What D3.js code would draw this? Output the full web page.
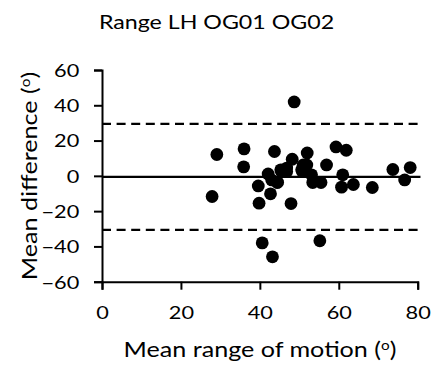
<!DOCTYPE html>
<html>
<head>
<meta charset="utf-8">
<script src="https://cdn.jsdelivr.net/npm/d3@7"></script>
<style>
  html, body { margin: 0; padding: 0; background: #fff; }
  svg { display: block; }
  text { font-family: Lato, "Open Sans", sans-serif; fill: #000; }
</style>
</head>
<body>
<svg id="chart" width="432" height="369"></svg>
<script>
// Bland-Altman: mean range of motion vs. mean difference between raters
const meanRange = [29.1, 27.9, 36.0, 35.9, 43.7, 48.7, 39.6, 39.8, 42.1, 42.7,
                   44.4, 43.0, 47.9, 48.2, 52.0, 45.3, 46.8, 51.0, 50.8, 53.1,
                   53.4, 55.5, 56.9, 59.3, 61.9, 61.0, 60.7, 63.7, 68.5, 73.7,
                   78.1, 76.7, 40.6, 43.2, 55.2, 46.8, 45.5, 44.5, 50.6, 51.9];
const meanDiff  = [12.1, -11.7, 15.3, 5.1, 13.8, 41.9, -5.7, -15.5, 1.1, -10.2,
                   -3.8, -2.3, -15.7, 9.4, 13.0, 3.4, 2.4, 6.2, 2.4, 0.6,
                   -3.8, -3.8, 6.2, 16.4, 14.5, 0.6, -6.4, -4.9, -6.6, 3.6,
                   4.7, -2.3, -38.0, -45.9, -36.8, 4.4, 2.4, -3.6, 3.4, 6.2];
const bias = -0.6;
const upperLoA = 29.5;
const lowerLoA = -30.6;
const xTicks = [0, 20, 40, 60, 80];
const yTicks = [-60, -40, -20, 0, 20, 40, 60];

// Text is set slightly wide (horizontal stretch factors)
const titleStretch = 1.19;
const labelStretch = 1.18;
const tickStretch = 1.25;

const svg = d3.select("#chart");
const x = d3.scaleLinear().domain([0, 80]).range([102, 417.7]);
const y = d3.scaleLinear().domain([-60, 60]).range([281.7, 70]);

// Title
svg.append("text")
  .attr("transform", `translate(216.5,29) scale(${titleStretch},1)`)
  .attr("text-anchor", "middle")
  .style("font-size", "19.5px")
  .text("Range LH OG01 OG02");

// Axes
const tickLen = 8;
const xAxis = svg.append("g")
  .attr("transform", `translate(0,${y(-60)})`)
  .call(d3.axisBottom(x).tickValues(xTicks).tickSizeOuter(0).tickSize(tickLen));
const yAxis = svg.append("g")
  .attr("transform", `translate(${x(0)},0)`)
  .call(d3.axisLeft(y).tickValues(yTicks).tickSizeOuter(0).tickSize(tickLen));
[xAxis, yAxis].forEach(g => {
  g.select(".domain").attr("stroke", "#000").attr("stroke-width", 2);
  g.selectAll(".tick line").attr("stroke", "#000").attr("stroke-width", 2);
  g.selectAll(".tick text")
    .style("font-size", "17.4px")
    .style("font-family", "Lato, sans-serif")
    .attr("fill", "#000");
});
xAxis.selectAll(".tick text")
  .attr("y", 37.3).attr("dy", 0)
  .attr("transform", `scale(${tickStretch},1)`);
yAxis.selectAll(".tick text")
  .attr("x", -22.7 / tickStretch).attr("dy", 6.3)
  .attr("transform", `scale(${tickStretch},1)`);

// Bias and limits of agreement
const lineX0 = x(0), lineX1 = x(80.7);
svg.append("line")
  .attr("x1", lineX0).attr("x2", lineX1)
  .attr("y1", y(bias)).attr("y2", y(bias))
  .attr("stroke", "#000").attr("stroke-width", 2.2);
[upperLoA, lowerLoA].forEach(v => {
  svg.append("line")
    .attr("x1", lineX0).attr("x2", lineX1)
    .attr("y1", y(v)).attr("y2", y(v))
    .attr("stroke", "#000").attr("stroke-width", 2.2)
    .attr("stroke-dasharray", "9,5.6");
});

// Points
svg.append("g").selectAll("circle")
  .data(meanRange.map((d, i) => [d, meanDiff[i]]))
  .join("circle")
  .attr("cx", d => x(d[0]))
  .attr("cy", d => y(d[1]))
  .attr("r", 6.4)
  .attr("fill", "#000");

// Axis titles with a superscript degree mark
function degreeLabel(sel, label) {
  sel.append("tspan").text(label + " (");
  sel.append("tspan").attr("dy", -7).style("font-size", "13px").text("o");
  sel.append("tspan").attr("dy", 7).text(")");
}
degreeLabel(
  svg.append("text")
    .attr("transform", `translate(260,357) scale(${labelStretch},1)`)
    .attr("text-anchor", "middle")
    .style("font-size", "21.3px"),
  "Mean range of motion");
degreeLabel(
  svg.append("text")
    .attr("transform", `translate(37,176) rotate(-90) scale(${labelStretch},1)`)
    .attr("text-anchor", "middle")
    .style("font-size", "21.3px"),
  "Mean difference");
</script>
</body>
</html>
